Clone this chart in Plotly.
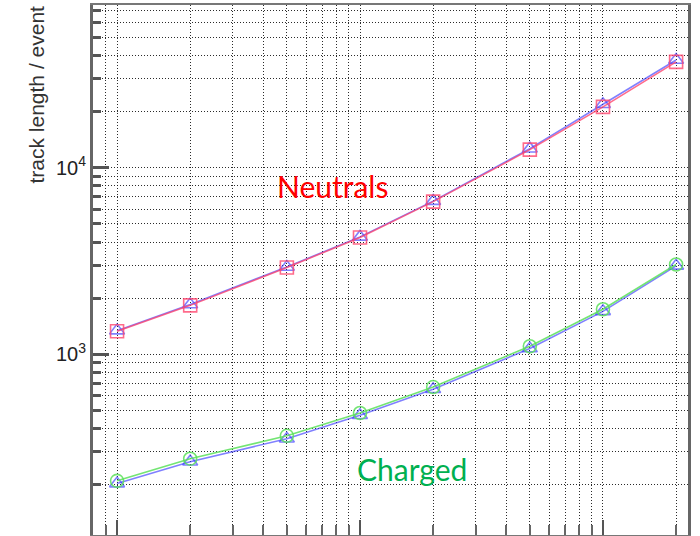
import plotly.graph_objects as go

# beam energy points (log x), tick labels are cropped away in the reference
energy = [1, 2, 5, 10, 20, 50, 100, 200]

# track length per event
neutral_red = [1330, 1830, 2920, 4230, 6580, 12500, 21200, 36900]
neutral_blue = [1340, 1850, 2940, 4260, 6620, 12650, 21900, 37800]
charged_green = [210, 276, 366, 485, 668, 1105, 1745, 3030]
charged_blue = [203, 266, 353, 472, 650, 1075, 1700, 2980]

y_major = [100, 1000, 10000]
y_major_text = ["10<sup>2</sup>", "10<sup>3</sup>", "10<sup>4</sup>"]
y_minor = [m * d for d in (100, 1000, 10000) for m in range(2, 10)]
x_major = [1, 10, 100]
x_minor = [0.9] + [m * d for d in (1, 10) for m in range(2, 10)] + [200]

fig = go.Figure()

def add(yvals, color, symbol, name):
    fig.add_trace(go.Scatter(
        x=energy, y=yvals, mode='lines+markers', name=name,
        line=dict(color=color, width=1.6),
        marker=dict(symbol=symbol, size=13, color=color,
                    line=dict(color=color, width=1.6))))

# blue underneath, coloured series drawn on top
add(neutral_blue, 'rgba(60,60,255,0.65)', 'triangle-up-open', 'neutral B')
add(charged_blue, 'rgba(60,60,255,0.65)', 'triangle-up-open', 'charged B')
add(neutral_red, 'rgba(255,70,110,0.8)', 'square-open', 'neutral A')
add(charged_green, 'rgba(90,225,90,0.85)', 'circle-open', 'charged A')

grid = dict(showgrid=True, gridcolor='rgba(20,20,20,0.9)', griddash='1px,2px', gridwidth=1)

fig.update_xaxes(type='log', range=[-0.099, 2.35],
                 tickvals=x_major, ticks='inside', ticklen=15, tickwidth=2, tickcolor='#555',
                 showticklabels=False, showline=True, linecolor='#777', linewidth=2, mirror=True,
                 minor=dict(tickvals=x_minor, ticks='inside', ticklen=10, tickwidth=1.5,
                            tickcolor='#666', **grid),
                 zeroline=False, **grid)

fig.update_yaxes(type='log', range=[2.032, 4.872],
                 tickvals=y_major, ticktext=y_major_text,
                 ticks='inside', ticklen=16, tickwidth=2.5, tickcolor='#555',
                 tickfont=dict(family='Liberation Sans', size=20, color='#222'),
                 showline=True, linecolor='#666', linewidth=3, mirror=True,
                 minor=dict(tickvals=y_minor, ticks='inside', ticklen=8, tickwidth=2.5,
                            tickcolor='#555', **grid),
                 zeroline=False, **grid)

fig.add_annotation(text='track length / event', textangle=-90, showarrow=False,
                   xref='paper', yref='paper', x=-0.095, y=0.832,
                   xanchor='center', yanchor='middle',
                   font=dict(family='Liberation Sans', size=21, color='#333'))
# annotation positions on log axes are given in log10 units
fig.add_annotation(text='Neutrals', showarrow=False, x=0.885, y=3.9, xref='x', yref='y',
                   xanchor='center', yanchor='middle',
                   font=dict(family='Lato', size=30, color='#ff0000'))
fig.add_annotation(text='Charged', showarrow=False, x=1.214, y=2.385, xref='x', yref='y',
                   xanchor='center', yanchor='middle',
                   font=dict(family='Lato', size=30, color='#00b050'))

fig.update_layout(width=700, height=536, showlegend=False,
                  plot_bgcolor='white', paper_bgcolor='white',
                  margin=dict(l=93, r=12, t=5, b=1))

fig.write_html("out.html", config={'displayModeBar': False},
               post_script="document.body.style.margin='0';")
